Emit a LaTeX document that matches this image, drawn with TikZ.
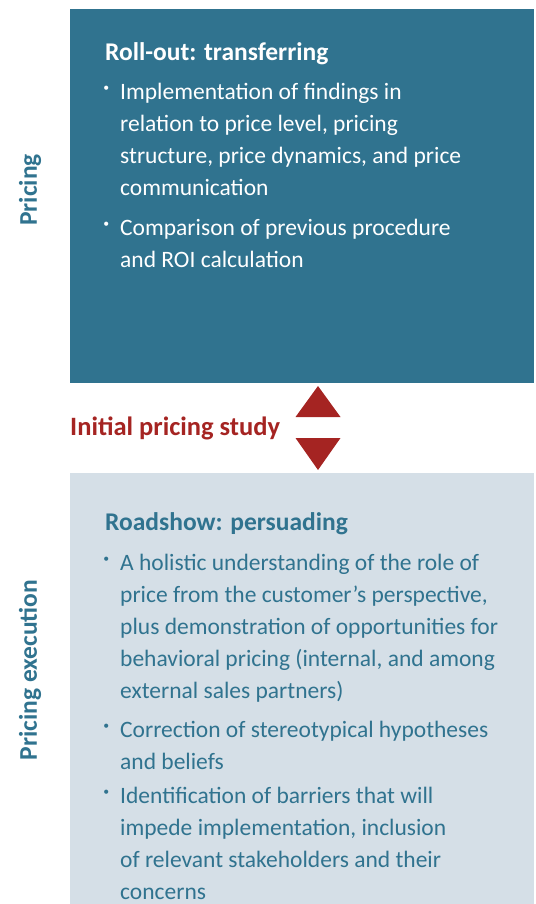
\documentclass[tikz,border=0pt]{standalone}
\usepackage{fontspec}
\setmainfont{Carlito}
\usepackage{tikz}
\usetikzlibrary{positioning,calc}
\usepackage{xcolor}

\definecolor{petrol}{HTML}{30738F}
\definecolor{mist}{HTML}{D5DFE7}
\definecolor{brick}{HTML}{A52422}

% small raised dot in front of a list entry
\newcommand{\dotitem}{\makebox[0pt][r]{\raisebox{8pt}{\scalebox{0.5}{\textbullet}}\hspace{11pt}}}
% lines of one entry, hanging from the first baseline
\newcommand{\entrylines}[1]{\begin{tabular}[t]{@{}l@{}}\dotitem #1\end{tabular}}

\begin{document}
\begin{tikzpicture}[
  x=1pt, y=-1pt,
  panel/.style={anchor=north west, inner sep=0pt, minimum width=464.5pt},
  heading/.style={anchor=base west, inner sep=0pt, font=\fontsize{25.5}{30}\selectfont\bfseries},
  entry/.style={anchor=base west, inner sep=0pt, font=\fontsize{23.5}{32}\selectfont},
  side/.style={rotate=90, inner sep=0pt, text=petrol, font=\fontsize{25.5}{30}\selectfont\bfseries}
]
  \useasboundingbox (0,0) rectangle (535,904);

  \node[panel, fill=petrol, minimum height=374pt] (rollout) at (69.5, 9) {};
  \node[panel, fill=mist, minimum height=431pt] (roadshow) at (69.5, 473) {};

  \node[side] (pricing) at (30, 190) {Pricing};
  \node[side] (execution) at (30, 670) {Pricing execution};

  % upper panel
  \node[heading, text=white] (rolltitle) at (105, 61) {Roll-out: transferring};
  \node[entry, text=white] (roll1) at (120, 100) {\entrylines{Implementation of findings in\\
    relation to price level, pricing\\
    structure, price dynamics, and price\\
    communication}};
  \node[entry, text=white] (roll2) at (120, 235) {\entrylines{Comparison of previous procedure\\
    and ROI calculation}};

  % lower panel
  \node[heading, text=petrol] (roadtitle) at (105, 530) {Roadshow: persuading};
  \node[entry, text=petrol] (road1) at (120, 570) {\entrylines{A holistic understanding of the role of\\
    price from the customer’s perspective,\\
    plus demonstration of opportunities for\\
    behavioral pricing (internal, and among\\
    external sales partners)}};
  \node[entry, text=petrol] (road2) at (120, 737) {\entrylines{Correction of stereotypical hypotheses\\
    and beliefs}};
  \node[entry, text=petrol] (road3) at (120, 803) {\entrylines{Identification of barriers that will\\
    impede implementation, inclusion\\
    of relevant stakeholders and their\\
    concerns}};

  % study between the two panels
  \node[heading, text=brick, font=\fontsize{26.5}{30}\selectfont\bfseries] (study) at (70, 435) {Initial pricing study};
  \coordinate (up) at (318, 386);
  \coordinate (down) at (318, 470);
  \fill[brick] (up) -- ($(up)+(22.5,31)$) -- ($(up)+(-22.5,31)$) -- cycle;
  \fill[brick] (down) -- ($(down)+(22.5,-32)$) -- ($(down)+(-22.5,-32)$) -- cycle;
\end{tikzpicture}
\end{document}
